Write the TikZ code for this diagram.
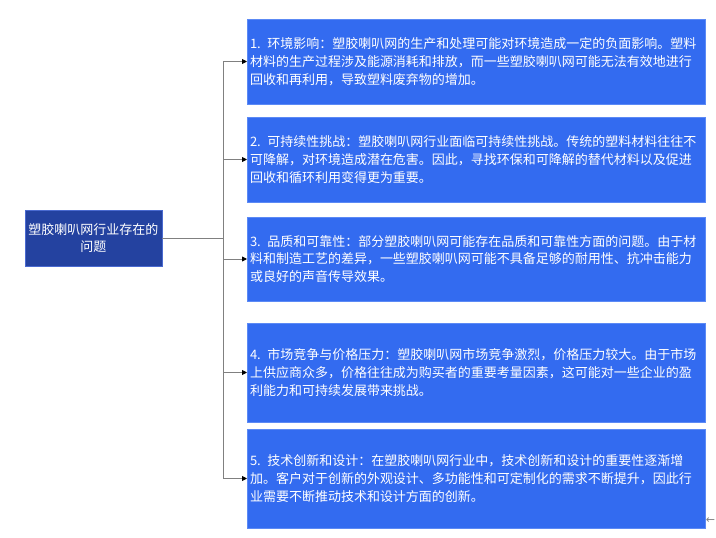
\documentclass[tikz,border=0pt]{standalone}
\usepackage{fontspec}
\setmainfont{Noto Sans CJK SC}
\newfontfamily\symfont{DejaVu Sans}
\usetikzlibrary{arrows.meta}
\definecolor{boxblue}{HTML}{336BF0}
\definecolor{boxedge}{HTML}{5C8AF5}
\definecolor{rootblue}{HTML}{2442A0}
\definecolor{rootedge}{HTML}{4A6AD0}
\definecolor{linegray}{HTML}{808080}
\tikzset{
  itembox/.style={draw=boxedge, fill=boxblue, line width=0.8pt, text=white,
    minimum width=458pt, inner xsep=3pt, inner ysep=0pt, outer sep=0pt,
    text width=452pt, align=left,
    font=\fontsize{13pt}{17.8pt}\selectfont},
  rootbox/.style={draw=rootedge, fill=rootblue, line width=0.8pt, text=white,
    minimum width=137pt, minimum height=56pt, inner sep=2pt, outer sep=0pt,
    text width=133pt, align=center,
    font=\fontsize{13pt}{17.5pt}\selectfont},
  conn/.style={draw=linegray, line width=0.9pt},
  arr/.style={conn, -{Triangle[black,length=5pt,width=5pt]}}
}
\begin{document}
\begin{tikzpicture}[x=1pt,y=-1pt]
\useasboundingbox (0,0) rectangle (716,538);
\node[rootbox] (root) at (93.5,238) {塑胶喇叭网行业存在的\\问题};
\node[itembox, minimum height=85pt] (b1) at (476,61.5) {1. 环境影响：塑胶喇叭网的生产和处理可能对环境造成一定的负面影响。塑料\\材料的生产过程涉及能源消耗和排放，而一些塑胶喇叭网可能无法有效地进行\\回收和再利用，导致塑料废弃物的增加。};
\node[itembox, minimum height=85pt] (b2) at (476,159.5) {2. 可持续性挑战：塑胶喇叭网行业面临可持续性挑战。传统的塑料材料往往不\\可降解，对环境造成潜在危害。因此，寻找环保和可降解的替代材料以及促进\\回收和循环利用变得更为重要。};
\node[itembox, minimum height=84pt] (b3) at (476,259) {3. 品质和可靠性：部分塑胶喇叭网可能存在品质和可靠性方面的问题。由于材\\料和制造工艺的差异，一些塑胶喇叭网可能不具备足够的耐用性、抗冲击能力\\或良好的声音传导效果。};
\node[itembox, minimum height=99pt] (b4) at (476,372.5) {4. 市场竞争与价格压力：塑胶喇叭网市场竞争激烈，价格压力较大。由于市场\\上供应商众多，价格往往成为购买者的重要考量因素，这可能对一些企业的盈\\利能力和可持续发展带来挑战。};
\node[itembox, minimum height=99pt] (b5) at (476,478.5) {5. 技术创新和设计：在塑胶喇叭网行业中，技术创新和设计的重要性逐渐增\\加。客户对于创新的外观设计、多功能性和可定制化的需求不断提升，因此行\\业需要不断推动技术和设计方面的创新。};
\coordinate (j) at (223,238);
\draw[conn] (root.east) -- (j);
\foreach \b in {b1,b2,b3,b4,b5} {\draw[arr] (j) |- (\b.west);}
\node[text=linegray, font=\symfont\fontsize{11pt}{11pt}\selectfont, inner sep=0pt] (mark) at (710.5,521) {←};
\end{tikzpicture}
\end{document}
